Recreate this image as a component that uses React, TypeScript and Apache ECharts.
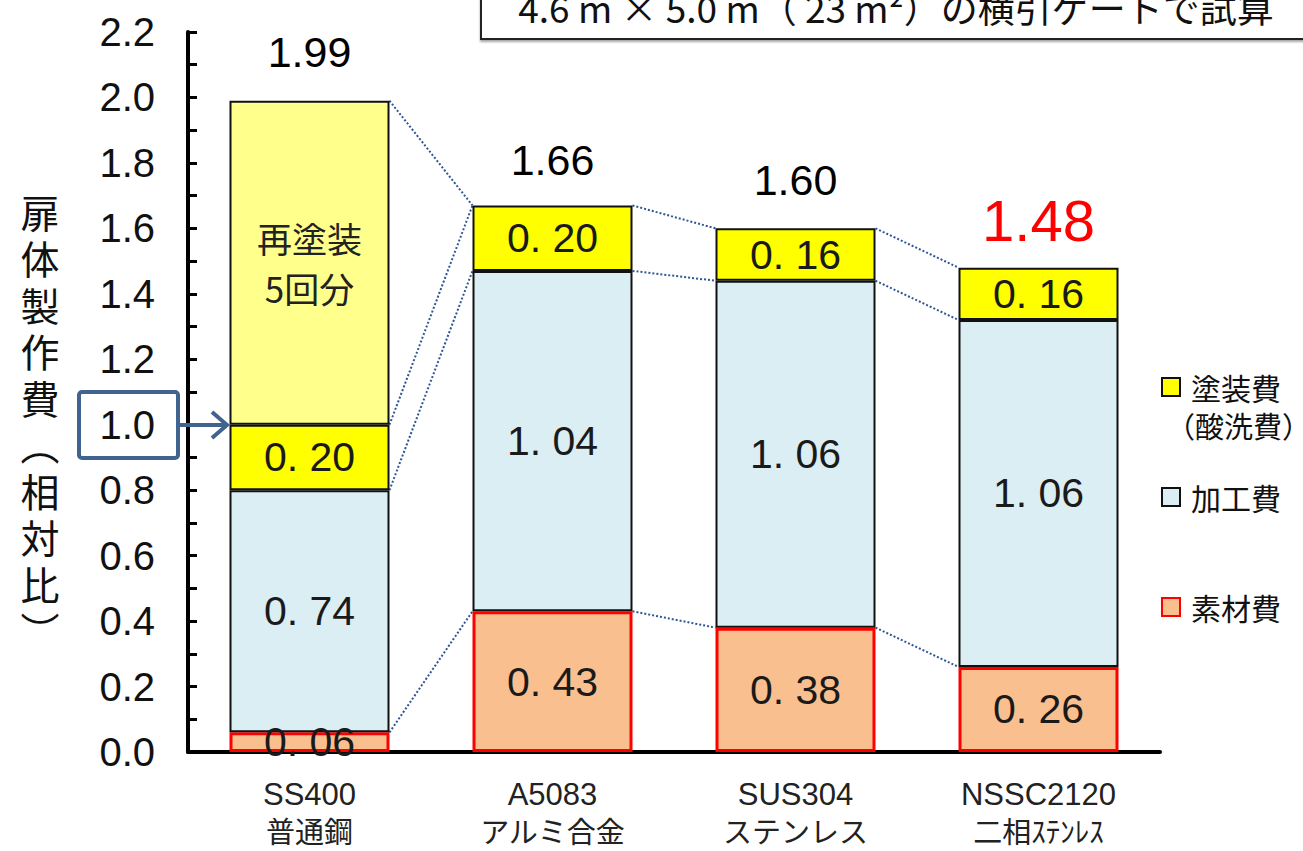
import React, { useEffect, useRef } from "react";
import * as echarts from "echarts";

// Materials on the category axis (two-line labels)
const categories = ["SS400", "A5083", "SUS304", "NSSC2120"];
const categorySubLabels = ["普通鋼", "アルミ合金", "ステンレス", "二相ｽﾃﾝﾚｽ"];

// Stacked cost components (relative to SS400 initial cost = 1.0)
const materialCost = [0.06, 0.43, 0.38, 0.26]; // 素材費
const processingCost = [0.74, 1.04, 1.06, 1.06]; // 加工費
const paintingCost = [0.2, 0.2, 0.16, 0.16]; // 塗装費（酸洗費）
const repaintCost = [0.99, null, null, null]; // 再塗装5回分

// Totals printed above each column
const totals = [1.99, 1.66, 1.6, 1.48];

// Y axis
const yTicks = { min: 0, max: 2.2, step: 0.1 };

// Connector lines between neighbouring columns: [level on left column, level on right column]
// level 0: top of 素材費, 1: top of 加工費, 2: top of 塗装費, 3: top of 再塗装
const connectorLevels = [
  [[3, 2], [2, 2], [1, 1], [0, 0]],
  [[2, 2], [1, 1], [0, 0]],
  [[2, 2], [1, 1], [0, 0]],
];

const BAR_WIDTH = 160;
const LATIN = "'Liberation Sans', 'Noto Sans CJK JP', sans-serif";
const JP = "'Noto Sans CJK JP', 'Noto Sans', sans-serif";

function segmentLabel(v: number) {
  return v.toFixed(2).replace(".", ". ");
}

function levels(i: number): number[] {
  const a = materialCost[i];
  const b = a + processingCost[i];
  const c = b + paintingCost[i];
  const d = c + (repaintCost[i] ?? 0);
  return [a, b, c, d];
}

export default function App() {
  const ref = useRef<HTMLDivElement>(null);

  useEffect(() => {
    document.body.style.margin = "0";
    const chart = echarts.init(ref.current!, null, { renderer: "svg" });

    const connectorData: number[][] = [];
    connectorLevels.forEach((pairs, i) => {
      const l = levels(i);
      const r = levels(i + 1);
      pairs.forEach(([a, b]) => connectorData.push([i, l[a], r[b]]));
    });

    const insideLabel = {
      show: true,
      position: "inside" as const,
      fontFamily: LATIN,
      fontSize: 41,
      color: "#1a1a1a",
      formatter: (p: any) => segmentLabel(p.value),
    };

    const option: any = {
      animation: false,
      grid: { left: 188, top: 32, width: 972, height: 720, containLabel: false },
      xAxis: {
        type: "category",
        data: categories,
        axisLine: { lineStyle: { color: "#000", width: 4 } },
        axisTick: { show: false },
        axisLabel: {
          margin: 22,
          formatter: (v: string, i: number) => `{a|${v}}\n{b|${categorySubLabels[i]}}`,
          rich: {
            a: { fontFamily: LATIN, fontSize: 31, lineHeight: 40, color: "#222" },
            b: { fontFamily: JP, fontSize: 29, lineHeight: 32, color: "#222" },
          },
        },
      },
      yAxis: {
        type: "value",
        min: yTicks.min,
        max: yTicks.max,
        interval: yTicks.step,
        axisLine: { show: true, lineStyle: { color: "#000", width: 4 } },
        axisTick: { show: true, inside: true, length: 9, lineStyle: { color: "#000", width: 3 } },
        splitLine: { show: false },
        axisLabel: {
          margin: 33,
          fontFamily: LATIN,
          fontSize: 40,
          color: "#111",
          formatter: (v: number) => (Math.round(v * 10) % 2 === 0 ? v.toFixed(1) : ""),
        },
      },
      legend: [
        { name: "塗装費", top: 364 },
        { name: "加工費", top: 474 },
        { name: "素材費", top: 584 },
      ].map((l) => ({
        data: [l.name],
        left: 1156,
        top: l.top,
        icon: "rect",
        itemWidth: 18,
        itemHeight: 18,
        selectedMode: false,
        textStyle: { fontFamily: JP, fontSize: 30, color: "#111", lineHeight: 36, padding: [0, 0, 0, 6] },
      })),
      series: [
        {
          name: "素材費",
          type: "bar",
          stack: "cost",
          barWidth: BAR_WIDTH,
          data: materialCost,
          itemStyle: { color: "#F9BF8F", borderColor: "#FF0000", borderWidth: 3 },
          label: insideLabel,
        },
        {
          name: "加工費",
          type: "bar",
          stack: "cost",
          data: processingCost,
          itemStyle: { color: "#DAEEF3", borderColor: "#111", borderWidth: 2 },
          label: insideLabel,
        },
        {
          name: "塗装費",
          type: "bar",
          stack: "cost",
          data: paintingCost,
          itemStyle: { color: "#FFFF00", borderColor: "#111", borderWidth: 2 },
          label: insideLabel,
        },
        {
          name: "再塗装",
          type: "bar",
          stack: "cost",
          data: repaintCost.map((v) => (v == null ? "-" : v)),
          itemStyle: { color: "#FFFF8C", borderColor: "#111", borderWidth: 2 },
          label: {
            show: true,
            position: "inside",
            formatter: "再塗装\n5回分",
            fontFamily: JP,
            fontSize: 35,
            lineHeight: 50,
            color: "#222",
          },
        },
        {
          name: "合計",
          type: "scatter",
          data: totals.map((v, i) =>
            i === totals.length - 1
              ? { value: v, label: { color: "#FF0000", fontSize: 58, lineHeight: 58, distance: 18 } }
              : v
          ),
          symbolSize: 1,
          itemStyle: { color: "rgba(0,0,0,0)", opacity: 1 },
          label: {
            show: true,
            position: "top",
            distance: 26,
            fontFamily: LATIN,
            fontSize: 43,
            lineHeight: 44,
            color: "#000",
            opacity: 1,
            formatter: (p: any) => p.value.toFixed(2),
          },
          z: 5,
        },
        {
          name: "連結線",
          type: "custom",
          data: connectorData,
          encode: { x: 0, y: [1, 2] },
          renderItem: (params: any, api: any) => {
            const i = api.value(0);
            const p1 = api.coord([i, api.value(1)]);
            const p2 = api.coord([i + 1, api.value(2)]);
            return {
              type: "line",
              shape: { x1: p1[0] + BAR_WIDTH / 2, y1: p1[1], x2: p2[0] - BAR_WIDTH / 2, y2: p2[1] },
              style: { stroke: "#2F5597", lineWidth: 2, lineDash: [2, 2] },
            };
          },
          z: 1,
        },
      ],
      graphic: [
        // Title box (runs off the top edge)
        {
          type: "rect",
          shape: { x: 481, y: -20, width: 860, height: 59 },
          style: { fill: "#fff", stroke: "#222", lineWidth: 2, shadowColor: "rgba(0,0,0,0.35)", shadowOffsetY: 2, shadowBlur: 2 },
          z: 10,
        },
        {
          type: "text",
          x: 896,
          y: 7,
          style: {
            text: "4.6 m × 5.0 m（ 23 m²）の横引ゲートで試算",
            fontFamily: JP,
            fontSize: 37,
            fill: "#111",
            align: "center",
            verticalAlign: "middle",
          },
          z: 11,
        },
        // Y axis title (vertical)
        {
          type: "text",
          x: 40,
          y: 420,
          style: {
            text: "扉\n体\n製\n作\n費\n︵\n相\n対\n比\n︶",
            fontFamily: JP,
            fontSize: 39,
            lineHeight: 46.5,
            fill: "#111",
            align: "center",
            verticalAlign: "middle",
          },
        },
        // Highlight box on the 1.0 tick, arrow to the SS400 column
        {
          type: "rect",
          shape: { x: 79, y: 392, width: 99, height: 66, r: 3 },
          style: { fill: "none", stroke: "#41648F", lineWidth: 4 },
          z: 10,
        },
        {
          type: "line",
          shape: { x1: 178, y1: 425, x2: 226, y2: 425 },
          style: { stroke: "#41648F", lineWidth: 4 },
          z: 10,
        },
        {
          type: "polyline",
          shape: { points: [[212, 412], [227, 425], [212, 438]] },
          style: { stroke: "#41648F", lineWidth: 4, fill: "none" },
          z: 10,
        },
        // Second line of the 塗装費 legend entry
        {
          type: "text",
          x: 1166,
          y: 425,
          style: { text: "（酸洗費）", fontFamily: JP, fontSize: 29, fill: "#111", align: "left", verticalAlign: "middle" },
        },
      ],
    };

    chart.setOption(option);
    return () => chart.dispose();
  }, []);

  return <div ref={ref} style={{ width: 1303, height: 851 }} />;
}
